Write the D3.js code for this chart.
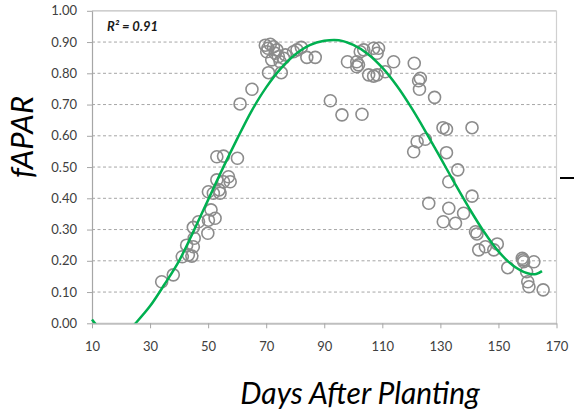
<!DOCTYPE html>
<html>
<head>
<meta charset="utf-8">
<script src="https://cdn.jsdelivr.net/npm/d3@7"></script>
<style>
  html, body { margin: 0; padding: 0; background: #fff; }
  svg { display: block; }
</style>
</head>
<body>
<svg id="chart" width="574" height="415"></svg>
<script>
// ---- data ----
const days = [34.0,38.0,41.1,43.2,44.4,42.6,44.9,45.2,44.9,46.7,49.9,50.1,52.4,51.0,50.1,51.8,54.1,53.8,53.0,55.3,57.0,57.6,53.0,55.3,60.1,
  61.0,65.1,70.8,75.2,69.7,71.4,70.6,72.5,70.2,73.1,74.2,71.9,74.8,76.0,76.6,73.7,79.4,80.6,82.1,84.0,86.9,
  92.1,96.1,103.0,98.0,101.2,101.8,101.2,102.4,103.6,107.0,108.7,108.2,105.3,107.0,108.2,111.0,113.9,
  121.0,122.5,123.1,122.8,128.0,130.9,132.1,140.9,122.0,124.8,120.8,132.1,136.0,132.9,126.0,140.9,132.9,131.0,
  135.2,138.0,142.1,142.6,143.2,145.5,148.4,149.6,153.2,158.2,158.7,158.5,162.2,159.7,160.1,160.5,165.4];
const fapar = [0.133,0.155,0.213,0.219,0.215,0.250,0.245,0.272,0.307,0.325,0.288,0.330,0.336,0.363,0.421,0.416,0.416,0.427,0.459,0.453,0.469,0.453,0.533,0.535,0.528,
  0.702,0.749,0.802,0.802,0.890,0.893,0.880,0.885,0.869,0.864,0.853,0.843,0.837,0.848,0.859,0.875,0.869,0.875,0.883,0.851,0.851,
  0.712,0.667,0.669,0.837,0.837,0.827,0.821,0.869,0.875,0.880,0.880,0.864,0.795,0.791,0.795,0.805,0.837,
  0.832,0.776,0.784,0.749,0.723,0.626,0.621,0.626,0.581,0.589,0.549,0.546,0.491,0.453,0.384,0.407,0.368,0.325,
  0.320,0.352,0.293,0.286,0.235,0.245,0.235,0.254,0.178,0.208,0.197,0.203,0.197,0.165,0.133,0.117,0.107];

// fitted trend line
const fitDays  = [10,12,15,18,21,23,25,30,35,40,45,50,55,60,65,70,75,80,85,90,95,100,105,110,115,120,125,130,135,140,145,150,155,160,163,165];
const fitFapar = [0.012,-0.010,-0.030,-0.038,-0.032,-0.020,0.000,0.055,0.125,0.200,0.295,0.395,0.495,0.590,0.680,0.755,0.815,0.860,0.890,0.904,0.906,0.891,0.862,0.818,0.760,0.690,0.612,0.530,0.447,0.367,0.293,0.230,0.185,0.160,0.158,0.167];

const xTicks = [10,30,50,70,90,110,130,150,170];
const yTicks = [0,0.1,0.2,0.3,0.4,0.5,0.6,0.7,0.8,0.9,1.0];
const r2Label = "R² = 0.91";
const xTitle = "Days After Planting";
const yTitle = "fAPAR";

// ---- drawing ----
const svg = d3.select("#chart");
const L = 92, R = 556.5, T = 10.8, B = 323.3;
const x = d3.scaleLinear().domain([10,170]).range([L,R]);
const y = d3.scaleLinear().domain([0,1]).range([B,T]);
const tickFont = "Lato, 'Open Sans', sans-serif";

svg.append("defs").append("clipPath").attr("id","plotclip")
  .append("rect").attr("x",L-2).attr("y",T).attr("width",R-L+2).attr("height",B-T);

// gridlines
svg.append("g").selectAll("line").data(yTicks.filter(v => v > 0 && v < 1)).join("line")
  .attr("x1",L).attr("x2",R).attr("y1",d=>y(d)).attr("y2",d=>y(d))
  .attr("stroke","#A6A6A6").attr("stroke-width",1).attr("stroke-dasharray","3,2.5");

// plot border top/right
svg.append("line").attr("x1",L).attr("x2",R).attr("y1",y(1)).attr("y2",y(1)).attr("stroke","#BFBFBF").attr("stroke-width",1.2);
svg.append("line").attr("x1",R).attr("x2",R).attr("y1",T).attr("y2",B).attr("stroke","#D0D0D0").attr("stroke-width",1.2);

// axes
const yAxis = d3.axisLeft(y).tickValues(yTicks).tickFormat(d3.format(".2f")).tickSize(5).tickSizeOuter(0).tickPadding(10);
const gy = svg.append("g").attr("transform",`translate(${L},0)`).call(yAxis);
gy.select(".domain").attr("stroke","#A6A6A6").attr("stroke-width",1.2);
gy.selectAll(".tick line").attr("stroke","#A6A6A6");
gy.selectAll("text").attr("font-family",tickFont).attr("font-size",13).attr("fill","#404040");

const xAxis = d3.axisBottom(x).tickValues(xTicks).tickFormat(d3.format("d")).tickSize(5).tickSizeOuter(0).tickPadding(13);
const gx = svg.append("g").attr("transform",`translate(0,${B})`).call(xAxis);
gx.select(".domain").attr("stroke","#BFBFBF").attr("stroke-width",2);
gx.selectAll(".tick line").attr("stroke","#A6A6A6");
gx.selectAll("text").attr("font-family",tickFont).attr("font-size",13).attr("fill","#404040");

// points
svg.append("g").selectAll("circle").data(days.map((d,i)=>[d,fapar[i]])).join("circle")
  .attr("cx",d=>x(d[0])).attr("cy",d=>y(d[1])).attr("r",6)
  .attr("fill","none").attr("stroke","#8C8C8C").attr("stroke-width",1.6);

// trend line
const line = d3.line().x(d=>x(d[0])).y(d=>y(d[1])).curve(d3.curveCatmullRom);
svg.append("path").datum(fitDays.map((d,i)=>[d,fitFapar[i]]))
  .attr("clip-path","url(#plotclip)")
  .attr("d",line).attr("fill","none").attr("stroke","#00B050").attr("stroke-width",2.5);

// R² label
svg.append("text").attr("x",107).attr("y",31).text(r2Label)
  .attr("font-family",tickFont).attr("font-size",13).attr("font-weight","bold").attr("font-style","italic").attr("fill","#1a1a1a");

// axis titles
svg.append("text").attr("x",360).attr("y",404).attr("text-anchor","middle").text(xTitle)
  .attr("font-family",tickFont).attr("font-size",30).attr("font-style","italic").attr("fill","#000");
svg.append("text").attr("transform","translate(33,137) rotate(-90)").attr("text-anchor","middle").text(yTitle)
  .attr("font-family",tickFont).attr("font-size",31).attr("font-style","italic").attr("fill","#000");

// clipped legend marker at right edge
svg.append("line").attr("x1",560).attr("x2",574).attr("y1",178).attr("y2",178).attr("stroke","#000").attr("stroke-width",2);
</script>
</body>
</html>
